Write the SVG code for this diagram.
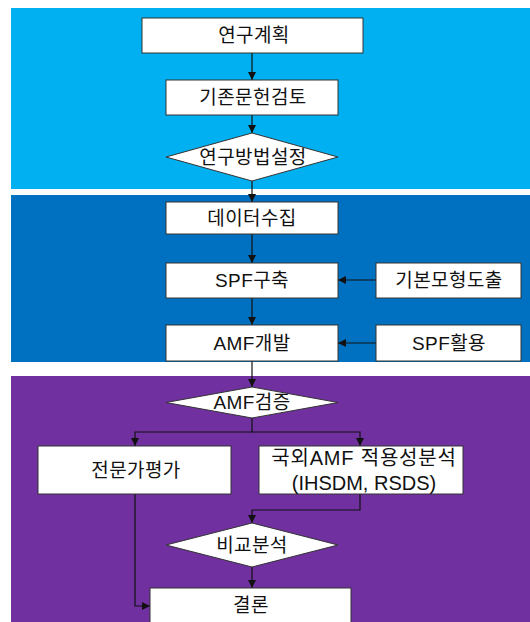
<svg xmlns="http://www.w3.org/2000/svg" width="530" height="622" viewBox="0 0 530 622">
<style>
.box{fill:#fff;stroke:#333;stroke-width:1}
.t{font-family:"Liberation Sans","Noto Sans CJK KR",sans-serif;font-size:19px;fill:#111;text-anchor:middle;dominant-baseline:central;letter-spacing:0.4px}
.big{font-size:20px}
.c{fill:none;stroke:#111;stroke-width:1.2}
</style>
<defs>
<marker id="ah" viewBox="0 0 8 8" refX="8" refY="4" markerWidth="8" markerHeight="8" markerUnits="userSpaceOnUse" orient="auto">
<path d="M0,0 L8,4 L0,8 Z" fill="#111"/>
</marker>
</defs>
<rect x="0" y="0" width="530" height="622" fill="#fff"/>
<rect x="11" y="8" width="519" height="181" fill="#00B0F0"/>
<rect x="11" y="195" width="519" height="167" fill="#0070C0"/>
<rect x="11" y="376" width="519" height="246" fill="#7030A0"/>

<g id="connectors">
<path class="c" d="M252,53 V80" marker-end="url(#ah)"/>
<path class="c" d="M252,115 V133" marker-end="url(#ah)"/>
<path class="c" d="M252,181 V202" marker-end="url(#ah)"/>
<path class="c" d="M252,234 V263" marker-end="url(#ah)"/>
<path class="c" d="M252,298 V325" marker-end="url(#ah)"/>
<path class="c" d="M376,280 H338" marker-end="url(#ah)"/>
<path class="c" d="M376,343 H338" marker-end="url(#ah)"/>
<path class="c" d="M252,361 V387" marker-end="url(#ah)"/>
<path class="c" d="M252,418 V432 H135 V446" marker-end="url(#ah)"/>
<path class="c" d="M252,432 H360 V446" marker-end="url(#ah)"/>
<path class="c" d="M360,494 V510 H252 V523" marker-end="url(#ah)"/>
<path class="c" d="M252,567 V588" marker-end="url(#ah)"/>
<path class="c" d="M135,494 V606 H150" marker-end="url(#ah)"/>
</g>

<g id="n1"><rect class="box" x="142" y="18" width="221" height="35"/><text class="t" x="254" y="35.5">연구계획</text></g>
<g id="n2"><rect class="box" x="166" y="80" width="172" height="35"/><text class="t" x="253" y="97.5">기존문헌검토</text></g>
<g id="n3"><polygon class="box" points="252,133 338,157 252,181 166,157"/><text class="t" x="253" y="157">연구방법설정</text></g>
<g id="n4"><rect class="box" x="166" y="202" width="172" height="32"/><text class="t" x="252" y="218">데이터수집</text></g>
<g id="n5"><rect class="box" x="166" y="263" width="172" height="35"/><text class="t" x="252" y="280.5">SPF구축</text></g>
<g id="n6"><rect class="box" x="376" y="263" width="145" height="35"/><text class="t" x="449" y="280.5">기본모형도출</text></g>
<g id="n7"><rect class="box" x="166" y="325" width="172" height="36"/><text class="t" x="252" y="343">AMF개발</text></g>
<g id="n8"><rect class="box" x="376" y="325" width="145" height="36"/><text class="t" x="449" y="343">SPF활용</text></g>
<g id="n9"><polygon class="box" points="252,387 338,402.5 252,418 166,402.5"/><text class="t" x="252" y="402">AMF검증</text></g>
<g id="n10"><rect class="box" x="38" y="446" width="193" height="48"/><text class="t" x="136" y="470">전문가평가</text></g>
<g id="n11"><rect class="box" x="259" y="446" width="204" height="48"/><text class="t big" x="364" y="458" style="letter-spacing:0.8px">국외AMF 적용성분석</text><text class="t big" x="364" y="483" style="letter-spacing:0">(IHSDM, RSDS)</text></g>
<g id="n12"><polygon class="box" points="252,523 338,545 252,567 166,545"/><text class="t" x="252" y="545">비교분석</text></g>
<g id="n13"><rect class="box" x="150" y="588" width="201" height="50"/><text class="t" x="251" y="605">결론</text></g>
</svg>
